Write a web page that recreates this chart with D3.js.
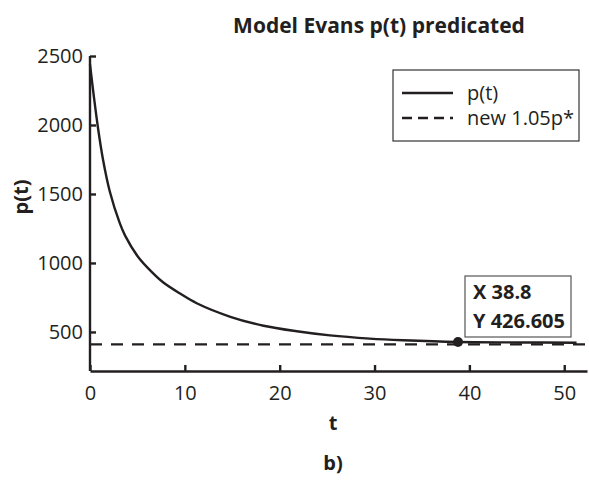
<!DOCTYPE html>
<html>
<head>
<meta charset="utf-8">
<script src="https://cdn.jsdelivr.net/npm/d3@7"></script>
<style>
  body { margin: 0; background: #fff; }
  svg text { font-family: "Open Sans", "Noto Sans", sans-serif; fill: #231f20; }
  .axis path, .axis line { stroke: #231f20; stroke-width: 2.4; }
</style>
</head>
<body>
<svg id="chart" width="589" height="480"></svg>
<script>
// values
const tValues = [0, 0.4, 0.84, 1.37, 2.08, 3.13, 3.7, 5.1, 6.5, 7.7, 9.5, 11.25, 14.8, 18.3, 21.8, 25.3, 29.5, 33, 38.8, 45, 51.3];
const pValues = [2440, 2210, 1980, 1750, 1520, 1290, 1198, 1041, 935, 860, 778, 708, 610, 545, 505, 475, 452, 440, 427, 424, 422];
const newLevel = 410;          // new 1.05p*
const marker = {x: 38.8, y: 426.605};
const xTicks = [0, 10, 20, 30, 40, 50];
const yTicks = [500, 1000, 1500, 2000, 2500];
const xDomain = [0, 52.4], yDomain = [217, 2500];
const legendLabels = ["p(t)", "new 1.05p*"];

const ink = "#231f20";
const fs = "20px";
const svg = d3.select("#chart");

const x = d3.scaleLinear().domain(xDomain).range([90, 587]);
const y = d3.scaleLinear().domain(yDomain).range([371, 56]);

// axes, ticks point inward
const xAxis = svg.append("g").attr("class", "axis")
    .attr("transform", "translate(0," + y(yDomain[0]) + ")")
    .call(d3.axisBottom(x).tickValues(xTicks).tickFormat(d3.format("d"))
        .tickSize(-6).tickSizeOuter(0).tickPadding(15));
xAxis.selectAll("text").style("font-size", fs);

const yAxis = svg.append("g").attr("class", "axis")
    .attr("transform", "translate(" + x(0) + ",0)")
    .call(d3.axisLeft(y).tickValues(yTicks).tickFormat(d3.format("d"))
        .tickSize(-6).tickSizeOuter(0).tickPadding(7));
yAxis.selectAll("text").style("font-size", fs);
yAxis.select(".domain").attr("d", "M0," + y(yDomain[1]) + "V" + y(yDomain[0]));

// p(t) curve
const pts = tValues.map((t, i) => ({t: t, p: pValues[i]}));
const line = d3.line().x(d => x(d.t)).y(d => y(d.p)).curve(d3.curveCatmullRom.alpha(0.5));
svg.append("path").datum(pts)
    .attr("d", line)
    .attr("fill", "none")
    .attr("stroke", ink)
    .attr("stroke-width", 2.4);

// new 1.05p* level
svg.append("line")
    .attr("x1", x(0)).attr("x2", x(xDomain[1]))
    .attr("y1", y(newLevel)).attr("y2", y(newLevel))
    .attr("stroke", ink).attr("stroke-width", 2.4)
    .attr("stroke-dasharray", "12,9");

// data cursor
svg.append("circle")
    .attr("cx", x(marker.x)).attr("cy", y(marker.y)).attr("r", 5)
    .attr("fill", ink);
const tip = svg.append("g").attr("transform", "translate(465,276)");
tip.append("rect").attr("width", 106).attr("height", 61)
    .attr("fill", "#fff").attr("stroke", "#555").attr("stroke-width", 1.2);
tip.append("text").attr("x", 8).attr("y", 23).style("font-size", fs).style("font-weight", "bold")
    .text("X " + marker.x);
tip.append("text").attr("x", 8).attr("y", 52).style("font-size", fs).style("font-weight", "bold")
    .text("Y " + marker.y);

// legend
const legend = svg.append("g").attr("transform", "translate(393,70)");
legend.append("rect").attr("width", 186).attr("height", 71)
    .attr("fill", "#fff").attr("stroke", "#333").attr("stroke-width", 1.2);
legendLabels.forEach(function (lab, i) {
    const ly = 23 + i * 25;
    legend.append("line")
        .attr("x1", 9).attr("x2", 60).attr("y1", ly).attr("y2", ly)
        .attr("stroke", ink).attr("stroke-width", 2.4)
        .attr("stroke-dasharray", i === 0 ? null : "10,6");
    legend.append("text").attr("x", 74).attr("y", ly + 7)
        .style("font-size", fs).text(lab);
});

// titles
svg.append("text").attr("x", 379).attr("y", 33).attr("text-anchor", "middle")
    .style("font-size", "21px").style("font-weight", "bold")
    .text("Model Evans p(t) predicated");
svg.append("text").attr("transform", "translate(28,197) rotate(-90)")
    .attr("text-anchor", "middle")
    .style("font-size", fs).style("font-weight", "bold").text("p(t)");
svg.append("text").attr("x", 333).attr("y", 430).attr("text-anchor", "middle")
    .style("font-size", fs).style("font-weight", "bold").text("t");
svg.append("text").attr("x", 333).attr("y", 470).attr("text-anchor", "middle")
    .style("font-size", fs).style("font-weight", "bold").text("b)");
</script>
</body>
</html>
